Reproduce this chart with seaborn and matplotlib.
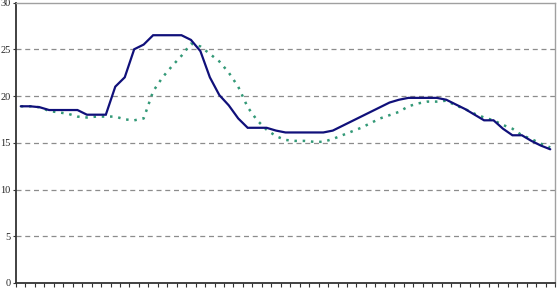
import numpy as np
import pandas as pd
import matplotlib
matplotlib.use("Agg")
import matplotlib.pyplot as plt
import seaborn as sns

solid = [18.9, 18.9, 18.8, 18.5, 18.5, 18.5, 18.5, 18.0, 18.0, 18.0,
         21.0, 22.0, 25.0, 25.5, 26.5, 26.5, 26.5, 26.5, 26.0, 24.8,
         22.0, 20.1, 19.0, 17.6, 16.6, 16.6, 16.6, 16.3, 16.1, 16.1,
         16.1, 16.1, 16.1, 16.3, 16.8, 17.3, 17.8, 18.3, 18.8, 19.3,
         19.6, 19.8, 19.8, 19.8, 19.8, 19.6, 19.1, 18.6, 18.0, 17.4,
         17.4, 16.5, 15.8, 15.8, 15.2, 14.7, 14.3]
dotted = [18.9, 18.9, 18.8, 18.4, 18.25, 18.1, 17.8, 17.7, 17.8, 17.8,
          17.8, 17.5, 17.4, 17.6, 20.5, 22.0, 23.2, 24.3, 25.6, 25.3,
          24.5, 23.7, 22.5, 21.0, 18.8, 17.4, 16.4, 15.7, 15.3, 15.2,
          15.2, 15.1, 15.1, 15.4, 15.8, 16.2, 16.6, 17.1, 17.6, 17.95,
          18.3, 18.9, 19.2, 19.4, 19.4, 19.5, 19.0, 18.6, 18.1, 17.7,
          17.4, 16.9, 16.5, 15.8, 15.4, 14.9, 14.5]
y_ticks = [0, 5, 10, 15, 20, 25, 30]

n = len(solid)
idx = np.arange(n)
df_s = pd.DataFrame({"i": idx, "v": solid})
df_d = pd.DataFrame({"i": idx, "v": dotted})

sns.set_style("white")
fig = plt.figure(figsize=(5.57, 2.92), dpi=100)
ax = fig.add_axes([16/557, 9/292, 539/557, 280.5/292])

for yv in y_ticks[1:-1]:
    ax.axhline(yv, color="#8c8c8c", lw=0.9, ls=(0, (4, 3)), zorder=0)

sns.lineplot(data=df_d, x="i", y="v", ax=ax, color="#339977", lw=1.8,
             linestyle=(0, (1, 2.3)), zorder=2)
sns.lineplot(data=df_s, x="i", y="v", ax=ax, color="#10107a", lw=1.6, zorder=3)
ax.lines[-1].set_solid_joinstyle("miter")

ax.set_xlim(-0.5, n - 0.5)
ax.set_ylim(0, 30)
ax.set_xticks(np.arange(n + 1) - 0.5)
ax.set_xticklabels([])
ax.set_yticks(y_ticks)
ax.set_yticklabels([str(t) for t in y_ticks], fontfamily="Liberation Serif", fontsize=7.5)
ax.tick_params(axis="x", direction="out", length=3, width=0.8, color="#333333", bottom=True)
ax.tick_params(axis="y", direction="out", length=2, width=0.8, color="#333333", left=True, pad=2)
ax.set_xlabel("")
ax.set_ylabel("")

for side in ["left", "bottom"]:
    ax.spines[side].set_color("#333333")
    ax.spines[side].set_linewidth(1.3)
for side in ["top", "right"]:
    ax.spines[side].set_visible(True)
    ax.spines[side].set_color("#a0a0a0")
    ax.spines[side].set_linewidth(1.0)

fig.savefig("out.png", dpi=100)
